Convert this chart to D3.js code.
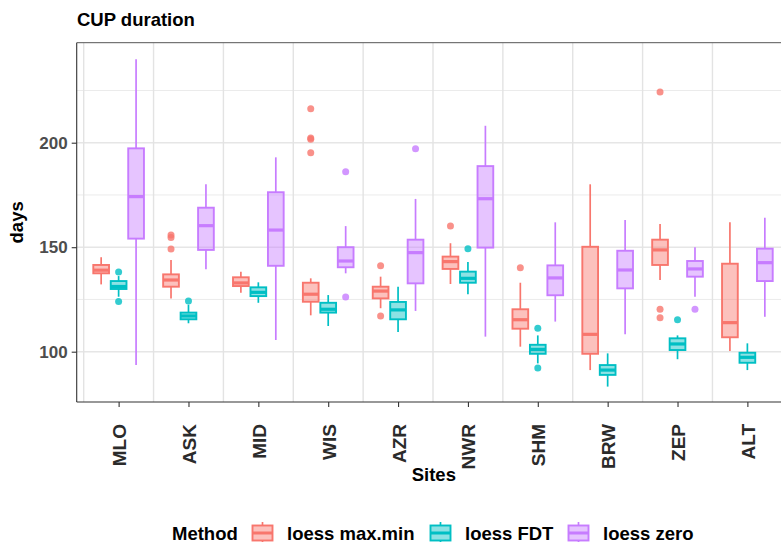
<!DOCTYPE html>
<html>
<head>
<meta charset="utf-8">
<script src="https://cdn.jsdelivr.net/npm/d3@7"></script>
<style>
  html, body { margin: 0; padding: 0; background: #fff; }
  svg { display: block; }
  text { font-family: "Liberation Sans", Arial, Helvetica, sans-serif; font-weight: bold; }
</style>
</head>
<body>
<svg id="chart" width="781" height="542"></svg>
<script>
// Sites along the x axis, and the three estimation methods
const sites = ["MLO", "ASK", "MID", "WIS", "AZR", "NWR", "SHM", "BRW", "ZEP", "ALT"];
const methods = ["loess max.min", "loess FDT", "loess zero"];
const methodColors = ["#F8766D", "#00BFC4", "#C77CFF"];
const yTicks = [100, 150, 200];
const yMinor = [125, 175, 225];

// Box statistics per site: [lower whisker, Q1, median, Q3, upper whisker]
const statsMaxMin = [
  [132.2, 137.5, 139.0, 141.5, 145.2],
  [125.5, 131.1, 134.3, 137.0, 143.9],
  [128.2, 131.4, 132.9, 135.6, 138.3],
  [117.4, 123.9, 127.5, 133.0, 135.1],
  [120.8, 125.5, 129.0, 131.1, 135.9],
  [132.4, 139.6, 143.1, 145.5, 151.9],
  [102.4, 111.0, 115.3, 120.3, 133.0],
  [91.2, 99.0, 108.3, 150.2, 180.1],
  [134.3, 141.5, 148.7, 153.6, 161.1],
  [100.3, 106.9, 113.9, 142.1, 161.9]
];
const statsFDT = [
  [126.3, 130.0, 131.2, 133.8, 136.2],
  [113.6, 115.5, 117.1, 118.7, 122.5],
  [123.4, 126.6, 128.4, 130.8, 133.2],
  [112.3, 118.7, 120.3, 123.4, 127.1],
  [109.4, 115.5, 120.0, 123.8, 131.1],
  [127.5, 133.0, 135.1, 138.3, 142.9],
  [94.4, 99.0, 101.1, 103.3, 107.8],
  [83.3, 88.9, 91.2, 93.6, 99.2],
  [96.4, 100.8, 103.7, 106.4, 107.8],
  [91.2, 94.7, 97.3, 99.5, 104.0]
];
const statsZero = [
  [93.6, 154.1, 174.2, 197.3, 239.9],
  [139.4, 148.7, 160.3, 168.9, 180.1],
  [105.6, 141.1, 158.2, 176.3, 193.0],
  [137.5, 140.4, 143.4, 150.0, 160.1],
  [119.5, 132.7, 147.4, 153.6, 173.1],
  [107.2, 149.8, 173.2, 188.8, 208.1],
  [114.4, 127.0, 135.3, 141.3, 161.9],
  [108.3, 130.3, 139.1, 148.3, 163.0],
  [126.3, 135.9, 139.6, 143.4, 150.0],
  [116.7, 133.8, 142.6, 149.3, 164.1]
];

// Outlying values per site
const outMaxMin = [[], [155.8, 154.6, 149.1], [], [216.3, 202.2, 201.6, 195.2], [141.1, 117.1], [160.1], [140.2], [], [224.3, 120.3, 116.3], []];
const outFDT = [[138.1, 124.0], [124.3], [], [], [], [149.3], [111.2, 92.2], [], [115.3], []];
const outZero = [[], [], [], [186.1, 126.2], [197.1], [], [], [], [120.3], []];

const allStats = [statsMaxMin, statsFDT, statsZero];
const allOut = [outMaxMin, outFDT, outZero];

const svg = d3.select("#chart");
const panel = { left: 76.7, right: 789.3, top: 42.7, bottom: 402 };

const x = d3.scalePoint().domain(sites).range([panel.left, panel.right]).padding(0.6);
const step = x.step();
const y = d3.scaleLinear().domain([75.93, 247.85]).range([panel.bottom, panel.top]);

// Horizontal grid
svg.append("g").selectAll("line").data(yMinor).join("line")
  .attr("x1", panel.left).attr("x2", panel.right)
  .attr("y1", d => y(d)).attr("y2", d => y(d))
  .attr("stroke", "#EBEBEB").attr("stroke-width", 1);
svg.append("g").selectAll("line").data(yTicks).join("line")
  .attr("x1", panel.left).attr("x2", panel.right)
  .attr("y1", d => y(d)).attr("y2", d => y(d))
  .attr("stroke", "#E6E6E6").attr("stroke-width", 1.6);

// Separators between sites
const seps = sites.map(s => x(s) - step / 2).concat([x(sites[sites.length - 1]) + step / 2]);
svg.append("g").selectAll("line").data(seps).join("line")
  .attr("x1", d => d).attr("x2", d => d)
  .attr("y1", panel.top).attr("y2", panel.bottom)
  .attr("stroke", "#E3E3E3").attr("stroke-width", 1.4);

// Boxplots
const dodge = step * 0.25;
const boxW = step * 0.225;
const marks = svg.append("g");
methods.forEach((m, mi) => {
  const col = methodColors[mi];
  const off = (mi - 1) * dodge;
  sites.forEach((s, si) => {
    const [lo, q1, med, q3, hi] = allStats[mi][si];
    const cx = x(s) + off;
    const g = marks.append("g");
    g.append("line").attr("x1", cx).attr("x2", cx).attr("y1", y(hi)).attr("y2", y(q3))
      .attr("stroke", col).attr("stroke-width", 1.7);
    g.append("line").attr("x1", cx).attr("x2", cx).attr("y1", y(q1)).attr("y2", y(lo))
      .attr("stroke", col).attr("stroke-width", 1.7);
    g.append("rect").attr("x", cx - boxW / 2).attr("width", boxW)
      .attr("y", y(q3)).attr("height", y(q1) - y(q3))
      .attr("fill", col).attr("fill-opacity", 0.45)
      .attr("stroke", col).attr("stroke-width", 1.9);
    g.append("line").attr("x1", cx - boxW / 2).attr("x2", cx + boxW / 2)
      .attr("y1", y(med)).attr("y2", y(med))
      .attr("stroke", col).attr("stroke-width", 3.2);
    g.selectAll("circle").data(allOut[mi][si]).join("circle")
      .attr("cx", cx).attr("cy", d => y(d)).attr("r", 3.5)
      .attr("fill", col).attr("fill-opacity", 0.8);
  });
});

// Panel border (top) and axes
svg.append("line").attr("x1", panel.left).attr("x2", panel.right)
  .attr("y1", panel.top).attr("y2", panel.top).attr("stroke", "#555").attr("stroke-width", 1);

const yAxis = svg.append("g").attr("transform", `translate(${panel.left},0)`)
  .call(d3.axisLeft(y).tickValues(yTicks).tickSize(5).tickPadding(4));
yAxis.select(".domain").attr("d", `M0,${panel.top}V${panel.bottom}`).attr("stroke", "#333").attr("stroke-width", 1.1);
yAxis.selectAll(".tick line").attr("stroke", "#333").attr("stroke-width", 1.1);
yAxis.selectAll(".tick text").attr("fill", "#4D4D4D").style("font-size", "17px")
  .style("font-weight", "bold").style("font-family", "Liberation Sans, Arial, sans-serif");

const xAxis = svg.append("g").attr("transform", `translate(0,${panel.bottom})`)
  .call(d3.axisBottom(x).tickSize(5).tickPadding(0));
xAxis.select(".domain").attr("d", `M${panel.left},0H${panel.right}`).attr("stroke", "#333").attr("stroke-width", 1.1);
xAxis.selectAll(".tick line").attr("stroke", "#333").attr("stroke-width", 1.1);
xAxis.selectAll(".tick text")
  .attr("transform", "translate(7,22) rotate(-90)")
  .attr("text-anchor", "end").attr("dy", 0).attr("y", 0)
  .attr("fill", "#2b2b2b").style("font-size", "19px")
  .style("font-weight", "bold").style("font-family", "Liberation Sans, Arial, sans-serif");

// Titles
svg.append("text").attr("x", 77).attr("y", 26).text("CUP duration")
  .style("font-size", "18.5px").attr("fill", "#000");
svg.append("text").attr("x", (panel.left + 781) / 2 + 5).attr("y", 481).attr("text-anchor", "middle")
  .text("Sites").style("font-size", "18.5px").attr("fill", "#000");
svg.append("text").attr("transform", `translate(23,${(panel.top + panel.bottom) / 2}) rotate(-90)`)
  .attr("text-anchor", "middle").text("days").style("font-size", "18.5px").attr("fill", "#000");

// Legend
const legend = svg.append("g").attr("transform", "translate(0,533)");
legend.append("text").attr("x", 172).attr("y", 6.5).text("Method").style("font-size", "18.5px").attr("fill", "#000");
const keyX = [251, 429, 567];
methods.forEach((m, mi) => {
  const col = methodColors[mi];
  const g = legend.append("g").attr("transform", `translate(${keyX[mi]},0)`);
  g.append("line").attr("x1", 11.5).attr("x2", 11.5).attr("y1", -11).attr("y2", 11)
    .attr("stroke", col).attr("stroke-width", 1.7);
  g.append("rect").attr("x", 1.5).attr("y", -7.5).attr("width", 20).attr("height", 15)
    .attr("fill", "#fff");
  g.append("rect").attr("x", 1.5).attr("y", -7.5).attr("width", 20).attr("height", 15)
    .attr("fill", col).attr("fill-opacity", 0.45).attr("stroke", col).attr("stroke-width", 1.9);
  g.append("line").attr("x1", 1.5).attr("x2", 21.5).attr("y1", 0).attr("y2", 0)
    .attr("stroke", col).attr("stroke-width", 3);
  g.append("text").attr("x", 36).attr("y", 6.5).text(m).style("font-size", "18.5px").attr("fill", "#000");
});
</script>
</body>
</html>
